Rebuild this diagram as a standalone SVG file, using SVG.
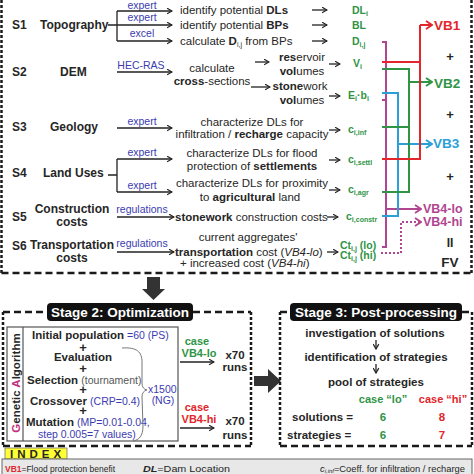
<svg xmlns="http://www.w3.org/2000/svg" width="474" height="474" viewBox="0 0 474 474">
<defs>
<style>
text{font-family:"Liberation Sans",Arial,sans-serif;fill:#262626;font-size:11.5px}
.b{font-weight:bold}
.c{text-anchor:middle}
.s{font-weight:bold;font-size:12px}
.pl{font-weight:bold;font-size:13px;text-anchor:middle}
.lb{fill:#3b3bb0;font-size:10.5px}
.gr{fill:#2f9445;font-weight:bold;font-size:10.5px}
.rd{fill:#e2262b;font-weight:bold}
.bu{fill:#2b9fd8;font-weight:bold}
.pu{fill:#b04592;font-weight:bold}
.vb{font-size:13.5px;font-weight:bold}
.v4{font-size:12.5px;font-weight:bold;fill:#b04592}
.sub{font-size:7px}
.ix{font-size:9.5px}
.ln{fill:none;stroke:#222;stroke-width:1.3}
.dh{fill:none;stroke:#1a1a1a;stroke-width:2.5;stroke-dasharray:7 4}
.dv{fill:none;stroke:#1a1a1a;stroke-width:2.5;stroke-dasharray:3 2}
.cr{fill:none;stroke:#e2262b;stroke-width:2}
.cg{fill:none;stroke:#2f9445;stroke-width:2}
.cb{fill:none;stroke:#2b9fd8;stroke-width:2}
.cp{fill:none;stroke:#b04592;stroke-width:2}
.cpd{fill:none;stroke:#b04592;stroke-width:2;stroke-dasharray:2 2}
.wt{fill:#fff;font-weight:bold;font-size:13.5px}
</style>
<marker id="ak" viewBox="0 0 10 10" refX="9" refY="5" markerWidth="7" markerHeight="7" orient="auto" markerUnits="userSpaceOnUse"><path d="M2,1 L9,5 L2,9" fill="none" stroke="#222" stroke-width="1.7"/></marker>
<marker id="ar" viewBox="0 0 10 10" refX="9" refY="5" markerWidth="10" markerHeight="10" orient="auto" markerUnits="userSpaceOnUse"><path d="M3,1 L9,5 L3,9" fill="none" stroke="#e2262b" stroke-width="1.8"/></marker>
<marker id="ag" viewBox="0 0 10 10" refX="9" refY="5" markerWidth="10" markerHeight="10" orient="auto" markerUnits="userSpaceOnUse"><path d="M3,1 L9,5 L3,9" fill="none" stroke="#2f9445" stroke-width="1.8"/></marker>
<marker id="ab" viewBox="0 0 10 10" refX="9" refY="5" markerWidth="10" markerHeight="10" orient="auto" markerUnits="userSpaceOnUse"><path d="M3,1 L9,5 L3,9" fill="none" stroke="#2b9fd8" stroke-width="1.8"/></marker>
<marker id="ap" viewBox="0 0 10 10" refX="9" refY="5" markerWidth="10" markerHeight="10" orient="auto" markerUnits="userSpaceOnUse"><path d="M3,1 L9,5 L3,9" fill="none" stroke="#b04592" stroke-width="1.8"/></marker>
</defs>
<rect width="474" height="474" fill="#fff"/>

<!-- Stage 1 frame -->
<g id="stage1">
<path class="dv" d="M1.5,0 V273 M471.5,0 V273"/>
<path class="dh" d="M1.5,273 H471.5"/>
</g>

<!-- Stage 1 nodes -->
<g id="s1">
<text class="s" x="12" y="29">S1</text>
<text class="s" x="40" y="29">Topography</text>
<text class="lb c" x="142" y="8.5">expert</text>
<text class="lb c" x="142" y="21">expert</text>
<text class="lb c" x="142" y="37">excel</text>
<text x="180" y="14">identify potential <tspan class="b">DLs</tspan></text>
<text x="180" y="29">identify potential <tspan class="b">BPs</tspan></text>
<text x="180" y="45">calculate <tspan class="b">D</tspan><tspan class="sub" dy="2">i,j</tspan><tspan dy="-2"> from BPs</tspan></text>
<text class="gr" x="352" y="14">DL<tspan class="sub" dy="2">i</tspan></text>
<text class="gr" x="352" y="29">BL</text>
<text class="gr" x="352" y="45">D<tspan class="sub" dy="2">i,j</tspan></text>
</g>
<g id="s2">
<text class="s" x="12" y="76">S2</text>
<text class="s" x="60" y="76">DEM</text>
<text class="lb c" x="141" y="69">HEC-RAS</text>
<text class="c" x="212" y="72">calculate</text>
<text class="c" x="212" y="85"><tspan class="b">cross</tspan>-sections</text>
<text class="c" x="302" y="61"><tspan class="b">res</tspan>ervoir</text>
<text class="c" x="302" y="75"><tspan class="b">vol</tspan>umes</text>
<text class="c" x="300" y="90"><tspan class="b">stone</tspan>work</text>
<text class="c" x="302" y="104"><tspan class="b">vol</tspan>umes</text>
<text class="gr" x="353" y="67">V<tspan class="sub" dy="2">i</tspan></text>
<text class="gr" x="348" y="99">E<tspan class="sub" dy="2">i</tspan><tspan dy="-2">·b</tspan><tspan class="sub" dy="2">i</tspan></text>
</g>
<g id="s3">
<text class="s" x="12" y="131">S3</text>
<text class="s" x="50" y="131">Geology</text>
<text class="lb c" x="142" y="125">expert</text>
<text class="c" x="252" y="126">characterize DLs for</text>
<text class="c" x="252" y="138">infiltration / <tspan class="b">recharge</tspan> capacity</text>
<text class="gr" x="348" y="133" font-size="9">c<tspan class="sub" font-size="6" dy="1.5">i,inf</tspan></text>
</g>
<g id="s4">
<text class="s" x="12" y="177">S4</text>
<text class="s" x="43" y="177">Land Uses</text>
<text class="lb c" x="142" y="156">expert</text>
<text class="lb c" x="142" y="189">expert</text>
<text class="c" x="252" y="157">characterize DLs for flood</text>
<text class="c" x="252" y="170">protection of <tspan class="b">settlements</tspan></text>
<text class="c" x="252" y="187">characterize DLs for proximity</text>
<text class="c" x="250" y="201">to <tspan class="b">agricultural</tspan> land</text>
<text class="gr" x="348" y="163" font-size="9">c<tspan class="sub" font-size="6" dy="1.5">i,settl</tspan></text>
<text class="gr" x="348" y="193" font-size="9">c<tspan class="sub" font-size="6" dy="1.5">i,agr</tspan></text>
</g>
<g id="s5">
<text class="s" x="12" y="221">S5</text>
<text class="s c" x="72" y="213">Construction</text>
<text class="s c" x="72" y="226">costs</text>
<text class="lb c" x="142" y="213" font-size="10">regulations</text>
<text x="175" y="221"><tspan class="b">stonework</tspan> construction costs</text>
<text class="gr" x="346" y="220" font-size="9">c<tspan class="sub" font-size="6" dy="1.5">i,constr</tspan></text>
</g>
<g id="s6">
<text class="s" x="12" y="250">S6</text>
<text class="s c" x="72" y="249">Transportation</text>
<text class="s c" x="72" y="262">costs</text>
<text class="lb c" x="142" y="247" font-size="10">regulations</text>
<text class="c" x="248" y="241">current aggregates'</text>
<text x="175" y="256"><tspan class="b">transportation</tspan> cost (<tspan font-style="italic">VB4-lo</tspan>)</text>
<text x="180" y="267">+ increased cost (<tspan font-style="italic">VB4-hi</tspan>)</text>
<text class="gr" x="340" y="249" font-size="11">Ct<tspan class="sub" dy="2">i,j</tspan><tspan dy="-2"> (lo)</tspan></text>
<text class="gr" x="340" y="259" font-size="11">Ct<tspan class="sub" dy="2">i,j</tspan><tspan dy="-2"> (hi)</tspan></text>
</g>
<g id="vb">
<text class="vb rd" x="434" y="30">VB1</text>
<text class="pl" x="450" y="61" font-size="14">+</text>
<text class="vb" x="434" y="88" style="fill:#2f9445">VB2</text>
<text class="pl" x="450" y="119" font-size="14">+</text>
<text class="vb bu" x="433" y="148">VB3</text>
<text class="pl" x="450" y="181" font-size="14">+</text>
<text class="v4" x="423" y="213">VB4-lo</text>
<text class="v4" x="423" y="225.5">VB4-hi</text>
<text class="s c" x="450" y="247">II</text>
<text class="vb c" x="450" y="267">FV</text>
</g>

<!-- connectors -->
<g id="connectors">
<path class="ln" d="M108,25 H117 M117,11 V41 M108,175 H117 M117,159 V192"/>
<path class="ln" marker-end="url(#ak)" d="M117,11 H172"/>
<path class="ln" marker-end="url(#ak)" d="M117,25 H172"/>
<path class="ln" marker-end="url(#ak)" d="M117,41 H172"/>
<path class="ln" marker-end="url(#ak)" d="M117,72 H172"/>
<path class="ln" marker-end="url(#ak)" d="M117,128 H172"/>
<path class="ln" marker-end="url(#ak)" d="M117,159 H172"/>
<path class="ln" marker-end="url(#ak)" d="M117,192 H172"/>
<path class="ln" marker-end="url(#ak)" d="M117,217 H174"/>
<path class="ln" marker-end="url(#ak)" d="M117,252 H174"/>
<path class="ln" marker-end="url(#ak)" d="M312,10 H327"/>
<path class="ln" marker-end="url(#ak)" d="M312,25 H327"/>
<path class="ln" marker-end="url(#ak)" d="M312,41 H327"/>
<path class="ln" marker-end="url(#ak)" d="M255,62 H269"/>
<path class="ln" marker-end="url(#ak)" d="M251,87 H270"/>
<path class="ln" marker-end="url(#ak)" d="M329,64 H340"/>
<path class="ln" marker-end="url(#ak)" d="M329,96 H340"/>
<path class="ln" marker-end="url(#ak)" d="M329,130 H340"/>
<path class="ln" marker-end="url(#ak)" d="M329,160 H340"/>
<path class="ln" marker-end="url(#ak)" d="M329,190 H340"/>
<path class="ln" marker-end="url(#ak)" d="M327,217 H338"/>
<path class="ln" marker-end="url(#ak)" d="M327,252 H338"/>
<!-- purple -->
<path class="cp" d="M382,42 H386 V247 H382 M382,100 H386"/>
<path class="cp" marker-end="url(#ap)" d="M386,209 H421"/>
<path class="cpd" marker-end="url(#ap)" d="M381,253 H401 V222 H421"/>
<!-- blue -->
<path class="cb" d="M382,93 H398 V216 H382"/>
<path class="cb" marker-end="url(#ab)" d="M398,144 H432"/>
<!-- green -->
<path class="cg" d="M382,69 H409 V192 H382 M382,127 H409"/>
<path class="cg" marker-end="url(#ag)" d="M409,82 H432"/>
<!-- red -->
<path class="cr" d="M382,62 H420 M382,159 H420 V25"/>
<path class="cr" marker-end="url(#ar)" d="M420,25 H432"/>
</g>

<!-- big arrows -->
<g id="flow-arrows" fill="#333">
<polygon points="147,277 160,277 160,289 165,289 153.5,300 142,289 147,289"/>
<polygon points="254,376 268,376 268,369 281,381 268,393 268,386 254,386"/>
</g>

<!-- Stage 2 -->
<g id="stage2">
<path class="dv" d="M3,312 V446 M251,312 V446"/>
<path class="dh" d="M3,312 H47 M193,312 H251 M3,446 H251"/>
<rect x="47" y="303" width="146" height="18" rx="4" fill="#111"/>
<text class="wt c" x="120" y="317">Stage 2: Optimization</text>
</g>
<g id="ga">
<rect x="7" y="327" width="171" height="114" fill="none" stroke="#555" stroke-width="1.2"/>
<line x1="23" y1="327" x2="23" y2="441" stroke="#555" stroke-width="1.2"/>
<text class="b" transform="translate(19.5,383) rotate(-90)" text-anchor="middle" font-size="12"><tspan fill="#c2307a">G</tspan>enetic <tspan fill="#c2307a">A</tspan>lgorithm</text>
<text class="b" x="32" y="339">Initial population</text>
<text class="lb" x="127" y="339" font-size="10">=60 (PS)</text>
<text class="pl" x="83" y="352">+</text>
<text class="b c" x="83" y="360.5">Evaluation</text>
<text class="pl" x="83" y="373">+</text>
<text x="27" y="383.5"><tspan class="b">Selection</tspan> <tspan font-size="10.5" fill="#555">(tournament)</tspan></text>
<text class="pl" x="83" y="394">+</text>
<text x="30" y="404.5"><tspan class="b">Crossover</tspan> <tspan font-size="10.5" fill="#3b3bb0">(CRP=0.4)</tspan></text>
<text class="pl" x="83" y="415">+</text>
<text x="26" y="425.5"><tspan class="b">Mutation</tspan> <tspan font-size="10.5" fill="#3b3bb0">(MP=0.01-0.04,</tspan></text>
<text class="lb" x="38" y="438">step 0.005=7 values)</text>
<path d="M122,348 C137,347 142,352 142,362 L142,383 Q142,389 147,390 Q142,391 142,397 L143,426 C143,436 139,440 133,441" fill="none" stroke="#777" stroke-width="1"/>
<text class="lb" x="148" y="393">x1500</text>
<text class="lb c" x="163" y="404">(NG)</text>
</g>
<g id="runs-lo">
<text class="c" x="197" y="345" style="fill:#2f9445;font-weight:bold;font-size:11px">case</text>
<text class="c" x="199" y="357" style="fill:#2f9445;font-weight:bold;font-size:11px">VB4-lo</text>
<path class="ln" marker-end="url(#ak)" d="M180,362 H214"/>
<text class="b c" x="235" y="359">x70</text>
<text class="b c" x="235" y="371">runs</text>
</g>
<g id="runs-hi">
<text class="c" x="197" y="411" style="fill:#e2262b;font-weight:bold;font-size:11px">case</text>
<text class="c" x="199" y="423" style="fill:#e2262b;font-weight:bold;font-size:11px">VB4-hi</text>
<path class="ln" marker-end="url(#ak)" d="M180,428 H214"/>
<text class="b c" x="235" y="425">x70</text>
<text class="b c" x="235" y="439">runs</text>
</g>

<!-- Stage 3 -->
<g id="stage3">
<path class="dv" d="M280,312 V446 M472,312 V446"/>
<path class="dh" d="M280,312 H290 M462,312 H472 M280,446 H472"/>
<rect x="290" y="303" width="172" height="18" rx="4" fill="#111"/>
<text class="wt c" x="376" y="317">Stage 3: Post-processing</text>
<text class="b c" x="375" y="337">investigation of solutions</text>
<path class="ln" marker-end="url(#ak)" d="M376,340 V349"/>
<text class="b c" x="376" y="361">identification of strategies</text>
<path class="ln" marker-end="url(#ak)" d="M376,364 V373"/>
<text class="b c" x="376" y="386">pool of strategies</text>
<text class="c" x="383" y="403" style="fill:#2f9445;font-weight:bold;font-size:11px">case “lo”</text>
<text class="c" x="443" y="403" style="fill:#e2262b;font-weight:bold;font-size:11px">case “hi”</text>
<text class="b" x="292" y="421">solutions =</text>
<text class="c" x="383" y="421" style="fill:#2f9445;font-weight:bold">6</text>
<text class="c" x="442" y="421" style="fill:#e2262b;font-weight:bold">8</text>
<text class="b" x="287" y="439">strategies =</text>
<text class="c" x="383" y="439" style="fill:#2f9445;font-weight:bold">6</text>
<text class="c" x="442" y="439" style="fill:#e2262b;font-weight:bold">7</text>
</g>

<!-- Index -->
<g id="index">
<rect x="5" y="448" width="62" height="11" fill="#ffff33" stroke="#777" stroke-width="0.8"/>
<text class="b" x="10" y="457.5" font-size="11" letter-spacing="4">INDEX</text>
<rect x="2" y="459" width="470" height="20" fill="#e8e8e8" stroke="#666" stroke-width="1"/>
<text class="ix" x="5" y="471.5" textLength="110" lengthAdjust="spacingAndGlyphs"><tspan class="rd">VB1</tspan>=Flood protection benefit</text>
<text class="ix" x="143" y="471.5" textLength="87" lengthAdjust="spacingAndGlyphs"><tspan font-weight="bold" font-style="italic">DL</tspan>=Dam Location</text>
<text class="ix" x="320" y="471.5" textLength="145" lengthAdjust="spacingAndGlyphs"><tspan font-style="italic">c</tspan><tspan font-size="6" dy="1.5" font-style="italic">i,inf</tspan><tspan dy="-1.5">=Coeff. for infiltration / recharge</tspan></text>
</g>
</svg>
